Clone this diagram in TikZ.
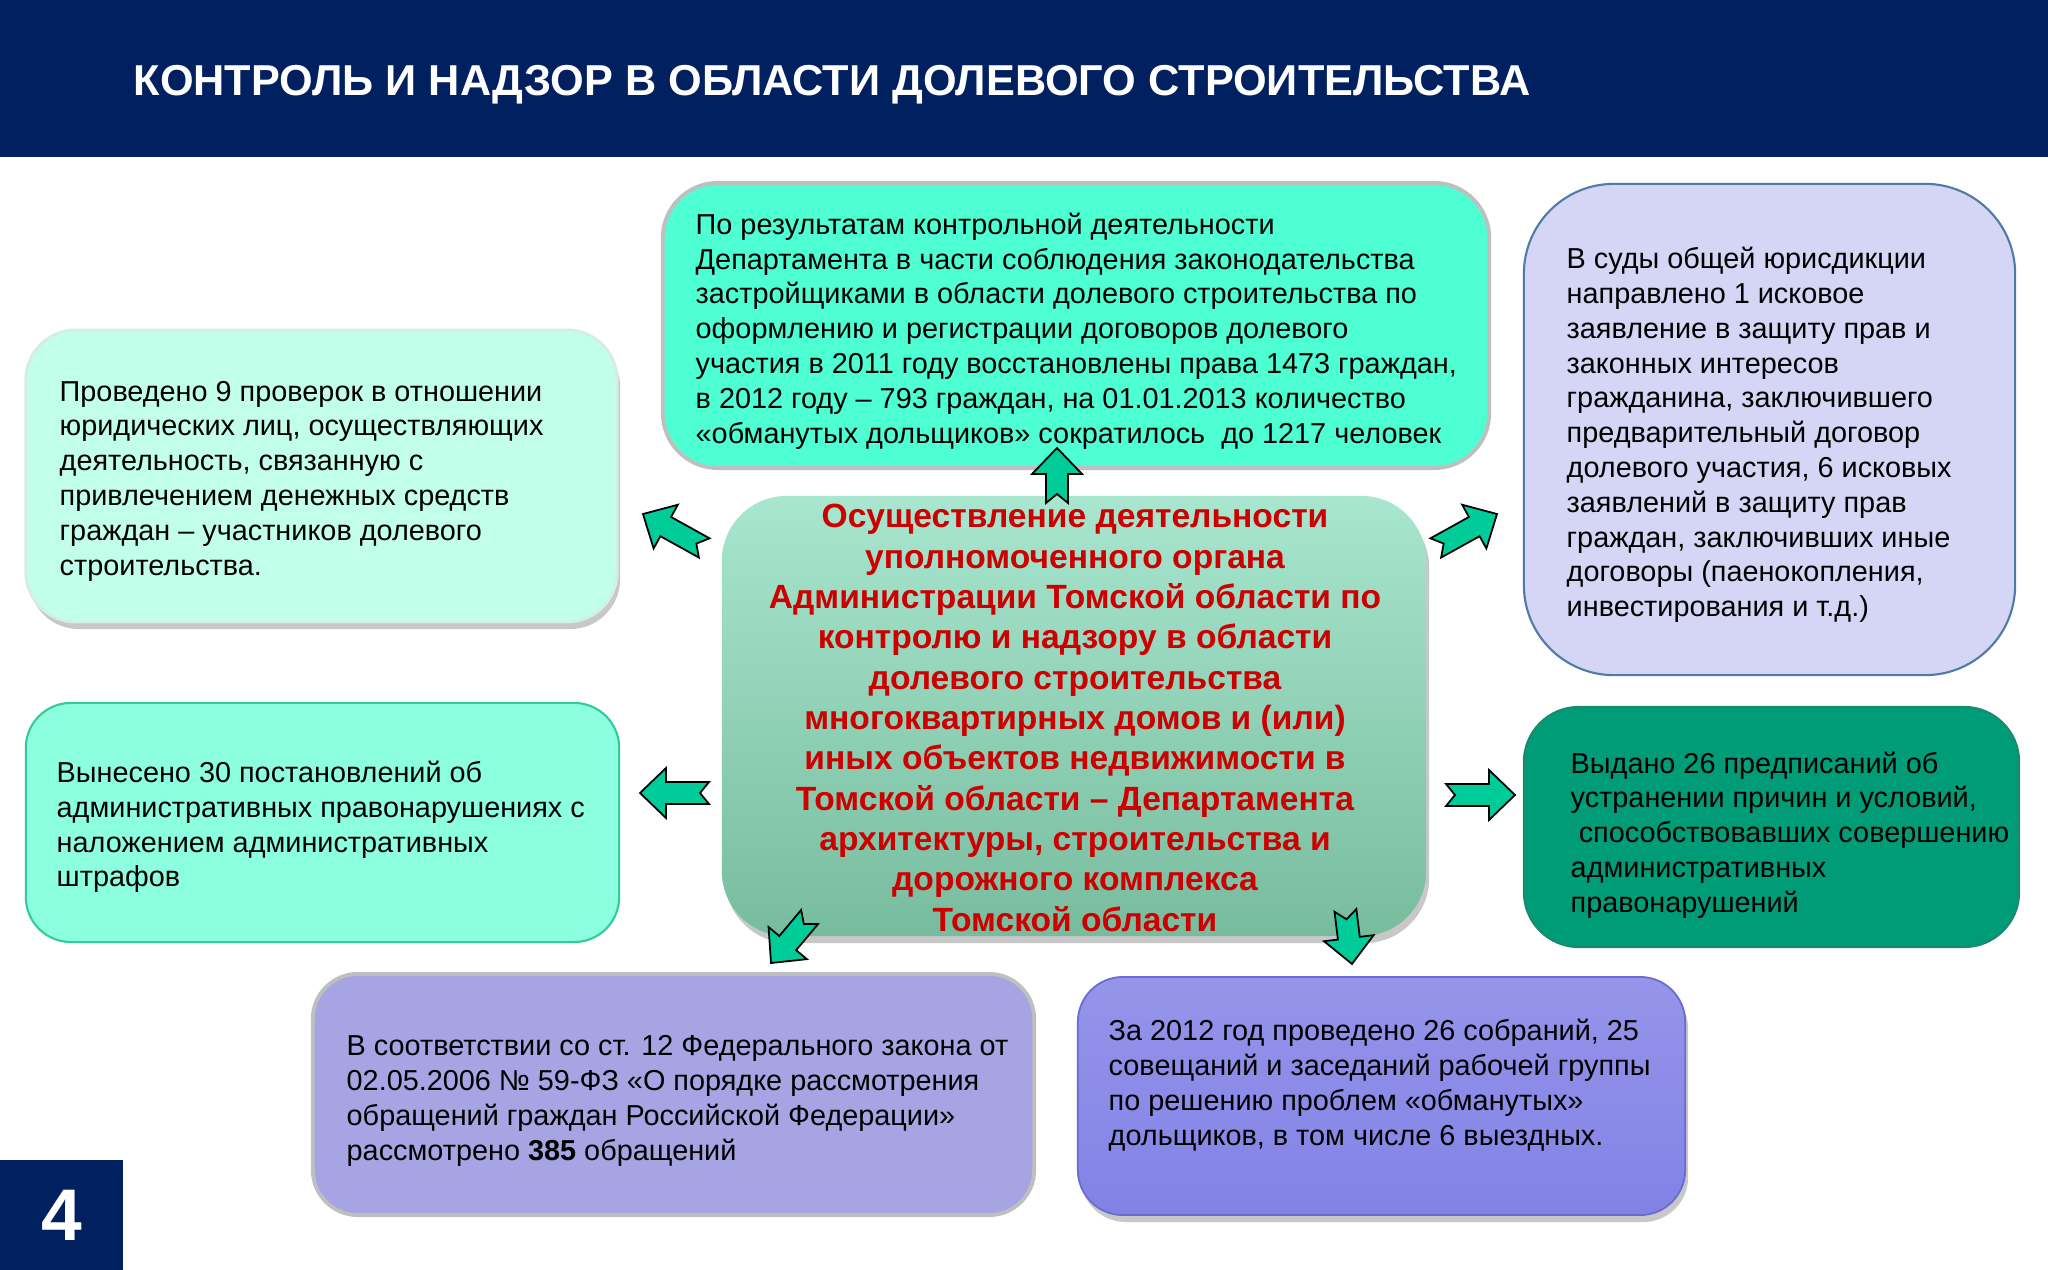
\documentclass[tikz,border=0pt]{standalone}
\usepackage{fontspec}
\setmainfont{Liberation Sans}
\usetikzlibrary{shadows}

\definecolor{navy}{HTML}{002060}
\definecolor{aqua}{HTML}{4DFFD3}
\definecolor{mint}{HTML}{C2FFEB}
\definecolor{mintedge}{HTML}{D2EEE6}
\definecolor{mintmid}{HTML}{8CFFE0}
\definecolor{mintline}{HTML}{33CC99}
\definecolor{ctrtop}{HTML}{A8E6CF}
\definecolor{ctrbot}{HTML}{78BC9E}
\definecolor{lilac}{HTML}{D5D5F5}
\definecolor{steel}{HTML}{4F7BA8}
\definecolor{jade}{HTML}{009B77}
\definecolor{jadeline}{HTML}{1A8A6E}
\definecolor{lavender}{HTML}{A6A4E2}
\definecolor{violet}{HTML}{8282E6}
\definecolor{violetline}{HTML}{6A6AD0}
\definecolor{arrowgreen}{HTML}{00CC99}
\definecolor{ctrred}{HTML}{CC0000}
\definecolor{framegray}{HTML}{BFBFBF}

\tikzset{
  box/.style={rectangle, inner sep=0pt},
  softshadow/.style={drop shadow={shadow xshift=0.03cm, shadow yshift=-0.07cm, opacity=0.3, fill=black!70}},
  txt/.style={anchor=west, align=left, inner sep=0pt, font=\fontsize{8.2}{9.9}\selectfont},
  arrowshape/.style={fill=arrowgreen, draw=black, line width=0.5pt, line join=miter},
  notcharrow/.pic={
    \draw[arrowshape] (0,0) -- (-26,-25) -- (-26,-11) -- (-#1,-11) -- (-#1+9,0)
      -- (-#1,11) -- (-26,11) -- (-26,25) -- cycle;
  }
}

\begin{document}
\begin{tikzpicture}[x=0.01cm, y=-0.01cm]
    \useasboundingbox (0,0) rectangle (2048,1270);
    \fill[white] (0,0) rectangle (2048,1270);

    % header and page number
    \fill[navy] (0,0) rectangle (2048,157);
    \node[anchor=west, inner sep=0pt, text=white, font=\bfseries\fontsize{12.3}{14}\selectfont] (title) at (133,85) {КОНТРОЛЬ И НАДЗОР В ОБЛАСТИ ДОЛЕВОГО СТРОИТЕЛЬСТВА};
    \node[box, fill=navy, minimum width=1.23cm, minimum height=1.1cm, text=white, font=\bfseries\fontsize{20.8}{24}\selectfont] (page) at (61.5,1215) {4};

    % boxes
    \node[box, fill=aqua, draw=framegray, line width=1.1pt, rounded corners=0.55cm, minimum width=8.26cm, minimum height=2.85cm] (result) at (1076,325.5) {};
    \node[box, fill=mint, draw=mintedge, line width=0.8pt, rounded corners=0.5cm, softshadow, minimum width=5.91cm, minimum height=2.92cm] (checks) at (321.5,476) {};
    \node[box, fill=mintmid, draw=mintline, line width=0.6pt, rounded corners=0.45cm, minimum width=5.93cm, minimum height=2.39cm] (fines) at (322.5,822.5) {};
    \node[box, top color=ctrtop, bottom color=ctrbot, rounded corners=0.65cm, softshadow, minimum width=7.04cm, minimum height=4.4cm] (main) at (1074,716) {};
    \node[box, fill=lilac, draw=steel, line width=0.6pt, rounded corners=0.9cm, minimum width=4.91cm, minimum height=4.91cm] (courts) at (1769.5,429.5) {};
    \node[box, fill=jade, draw=jadeline, line width=0.6pt, rounded corners=0.55cm, minimum width=4.95cm, minimum height=2.4cm] (orders) at (1771.5,827) {};
    \node[box, fill=lavender, draw=framegray, line width=1.1pt, rounded corners=0.45cm, minimum width=7.21cm, minimum height=2.41cm] (appeals) at (673.5,1094.5) {};
    \node[box, top color=violet!85!white, bottom color=violet, draw=violetline, line width=0.5pt, rounded corners=0.45cm, softshadow, minimum width=6.07cm, minimum height=2.38cm] (meetings) at (1381.5,1096) {};

    % arrows
    \pic[rotate=90] at (1057,448) {notcharrow=55};
    \pic[rotate=151] at (643,514) {notcharrow=70};
    \pic[rotate=29] at (1497,514) {notcharrow=70};
    \pic[rotate=180] at (640,793) {notcharrow=69};
    \pic[rotate=0] at (1515,795) {notcharrow=69};
    \pic[rotate=-130] at (771,963) {notcharrow=60};
    \pic[rotate=-83] at (1352,964) {notcharrow=54};

    % texts
    \node[txt] (resultText) at (695,331) {По результатам контрольной деятельности\\Департамента в части соблюдения законодательства\\застройщиками в области долевого строительства по\\оформлению и регистрации договоров долевого\\участия в 2011 году восстановлены права 1473 граждан,\\в 2012 году – 793 граждан, на 01.01.2013 количество\\«обманутых дольщиков» сократилось~ до 1217 человек};
    \node[txt] (checksText) at (59,481) {Проведено 9 проверок в отношении\\юридических лиц, осуществляющих\\деятельность, связанную с\\привлечением денежных средств\\граждан – участников долевого\\строительства.};
    \node[txt] (finesText) at (56,827) {Вынесено 30 постановлений об\\административных правонарушениях с\\наложением административных\\штрафов};
    \node[align=center, inner sep=0pt, text=ctrred, font=\bfseries\fontsize{9.55}{11.47}\selectfont] (mainText) at (1075,718) {Осуществление деятельности\\уполномоченного органа\\Администрации Томской области по\\контролю и надзору в области\\долевого строительства\\многоквартирных домов и (или)\\иных объектов недвижимости в\\Томской области – Департамента\\архитектуры, строительства и\\дорожного комплекса\\Томской области};
    \node[txt] (courtsText) at (1566,435) {В суды общей юрисдикции\\направлено 1 исковое\\заявление в защиту прав и\\законных интересов\\гражданина, заключившего\\предварительный договор\\долевого участия, 6 исковых\\заявлений в защиту прав\\граждан, заключивших иные\\договоры (паенокопления,\\инвестирования и т.д.)};
    \node[txt] (ordersText) at (1570,835) {Выдано 26 предписаний об\\устранении причин и условий,\\\hspace*{0.28em}способствовавших совершению\\административных\\правонарушений};
    \node[txt] (appealsText) at (346,1101) {В соответствии со ст. 12 Федерального закона от\\02.05.2006 № 59-ФЗ «О порядке рассмотрения\\обращений граждан Российской Федерации»\\рассмотрено \textbf{385} обращений};
    \node[txt] (meetingsText) at (1108,1085) {За 2012 год проведено 26 собраний, 25\\совещаний и заседаний рабочей группы\\по решению проблем «обманутых»\\дольщиков, в том числе 6 выездных.};
\end{tikzpicture}
\end{document}
